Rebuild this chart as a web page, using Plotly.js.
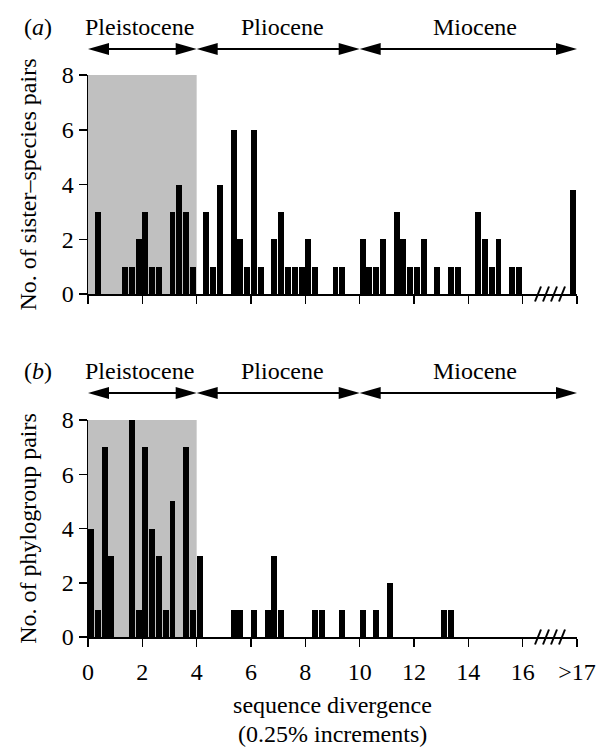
<!DOCTYPE html>
<html>
<head>
<meta charset="utf-8">
<script src="https://cdn.plot.ly/plotly-3.0.1.min.js"></script>
<style>
html,body{margin:0;padding:0;background:#fff;}
#chart{width:596px;height:747px;}
</style>
</head>
<body>
<div id="chart"></div>
<script>
// ---- data (bin start, 0.25% increments) ----
var sisterBins   = [0.25,1.25,1.5,1.75,2.0,2.25,2.5,3.0,3.25,3.5,3.75,4.25,4.5,4.75,5.25,5.5,5.75,6.0,6.25,6.75,7.0,7.25,7.5,7.75,8.0,8.25,9.0,9.25,10.0,10.25,10.5,10.75,11.25,11.5,11.75,12.0,12.25,12.75,13.25,13.5,14.25,14.5,14.75,15.0,15.5,15.75,17.75];
var sisterCounts = [3,1,1,2,3,1,1,3,4,3,1,3,1,4,6,2,1,6,1,2,3,1,1,1,2,1,1,1,2,1,1,2,3,2,1,1,2,1,1,1,3,2,1,2,1,1,3.8];
var phyloBins    = [0,0.25,0.5,0.75,1.5,1.75,2.0,2.25,2.5,2.75,3.0,3.5,3.75,4.0,5.25,5.5,6.0,6.5,6.75,7.0,8.25,8.5,9.25,10.0,10.5,11.0,13.0,13.25];
var phyloCounts  = [4,1,7,3,8,1,7,4,3,1,5,7,1,3,1,1,1,1,3,1,1,1,1,1,1,2,1,1];
var xTickVals    = [0,2,4,6,8,10,12,14,16,18];
var xTickText    = ['0','2','4','6','8','10','12','14','16','>17'];
var yTickVals    = [0,2,4,6,8];
var epochs       = ['Pleistocene','Pliocene','Miocene'];
var epochStart   = [0,4,10];
var epochEnd     = [4,10,18];
var epochLabelX  = [1.9,7.17,14.25];
var shadeRange   = [0,4];

// ---- layout geometry (pixels) ----
var W=596,H=747, L=88, R=19, T=75, B=110;
var pw=W-L-R, ph=H-T-B;
var XMAX=18;
function px2py(py){return (H-B-py)/ph;}       // pixel y -> paper
function dx2p(d){return d/XMAX;}               // data x -> paper
function pxw(p){return p/pw;}                  // pixel width -> paper
function pxh(p){return p/ph;}                  // pixel height -> paper

var domA=[px2py(294),1], domB=[0,px2py(420)];
var FONT='Liberation Serif, Times New Roman, Times, serif';
var FS=24;

var traces=[
 {type:'bar',x:sisterBins,y:sisterCounts,offset:0,width:0.22,xaxis:'x2',yaxis:'y2',
  marker:{color:'#000',line:{width:0}},hoverinfo:'x+y',showlegend:false},
 {type:'bar',x:phyloBins,y:phyloCounts,offset:0,width:0.22,xaxis:'x',yaxis:'y',
  marker:{color:'#000',line:{width:0}},hoverinfo:'x+y',showlegend:false}
];

var shapes=[], annotations=[];
// shaded Pleistocene boxes
shapes.push({type:'rect',xref:'x2',yref:'y2',x0:shadeRange[0],x1:shadeRange[1],y0:0,y1:8,fillcolor:'#c0c0c0',line:{width:0},layer:'below'});
shapes.push({type:'rect',xref:'x',yref:'y',x0:shadeRange[0],x1:shadeRange[1],y0:0,y1:8,fillcolor:'#c0c0c0',line:{width:0},layer:'below'});

function header(arrowPy, textPy, tag){
  var ay=px2py(arrowPy), hl=pxw(21), hh=pxh(6);
  for(var i=0;i<epochs.length;i++){
    var a=dx2p(epochStart[i]), b=dx2p(epochEnd[i]);
    shapes.push({type:'line',xref:'paper',yref:'paper',x0:a+hl*0.5,x1:b-hl*0.5,y0:ay,y1:ay,line:{color:'#000',width:2}});
    shapes.push({type:'path',xref:'paper',yref:'paper',path:'M'+a+','+ay+' L'+(a+hl)+','+(ay+hh)+' L'+(a+hl)+','+(ay-hh)+' Z',fillcolor:'#000',line:{width:0}});
    shapes.push({type:'path',xref:'paper',yref:'paper',path:'M'+b+','+ay+' L'+(b-hl)+','+(ay+hh)+' L'+(b-hl)+','+(ay-hh)+' Z',fillcolor:'#000',line:{width:0}});
    annotations.push({xref:'paper',yref:'paper',x:dx2p(epochLabelX[i]),y:px2py(textPy),text:epochs[i],showarrow:false,xanchor:'center',yanchor:'middle',font:{family:FONT,size:FS,color:'#000'}});
  }
  annotations.push({xref:'paper',yref:'paper',x:(38-L)/pw,y:px2py(textPy),text:'(<i>'+tag+'</i>)',showarrow:false,xanchor:'center',yanchor:'middle',font:{family:FONT,size:FS,color:'#000'}});
}
header(49,27,'a');
header(393,371,'b');

// axis break marks
function breakMarks(axisPaperY){
  var xs=[535,543,551,559];
  for(var i=0;i<xs.length;i++){
    shapes.push({type:'line',xref:'paper',yref:'paper',x0:(xs[i]-L)/pw,x1:(xs[i]+6-L)/pw,y0:axisPaperY-pxh(7.5),y1:axisPaperY+pxh(7.5),line:{color:'#000',width:2}});
  }
}
breakMarks(domA[0]);
breakMarks(0);

annotations.push({xref:'paper',yref:'paper',x:0.5,y:px2py(734),text:'(0.25% increments)',showarrow:false,xanchor:'center',yanchor:'middle',font:{family:FONT,size:FS,color:'#000'}});

var axCommon={showgrid:false,zeroline:false,showline:true,linecolor:'#000',linewidth:1.5,
  ticks:'outside',ticklen:8,tickwidth:1.5,tickcolor:'#000',
  tickfont:{family:FONT,size:FS,color:'#000'},fixedrange:true};

var layout={
  width:W,height:H,margin:{l:L,r:R,t:T,b:B},
  paper_bgcolor:'#fff',plot_bgcolor:'#fff',showlegend:false,bargap:0,
  font:{family:FONT,size:FS,color:'#000'},
  xaxis:Object.assign({},axCommon,{domain:[0,1],anchor:'y',range:[0,XMAX],tickmode:'array',tickvals:xTickVals,ticktext:xTickText,
    ticklabelstandoff:5,title:{text:'sequence divergence',font:{family:FONT,size:FS,color:'#000'},standoff:12}}),
  yaxis:Object.assign({},axCommon,{domain:domB,anchor:'x',range:[0,8],tickmode:'array',tickvals:yTickVals,
    title:{text:'No. of phylogroup pairs',font:{family:FONT,size:FS,color:'#000'},standoff:18}}),
  xaxis2:Object.assign({},axCommon,{domain:[0,1],anchor:'y2',range:[0,XMAX],tickmode:'array',tickvals:xTickVals,showticklabels:false}),
  yaxis2:Object.assign({},axCommon,{domain:domA,anchor:'x2',range:[0,8],tickmode:'array',tickvals:yTickVals,
    title:{text:'No. of sister–species pairs',font:{family:FONT,size:FS,color:'#000'},standoff:18}}),
  shapes:shapes,annotations:annotations
};

Plotly.newPlot('chart',traces,layout,{displayModeBar:false,staticPlot:true});
</script>
</body>
</html>
